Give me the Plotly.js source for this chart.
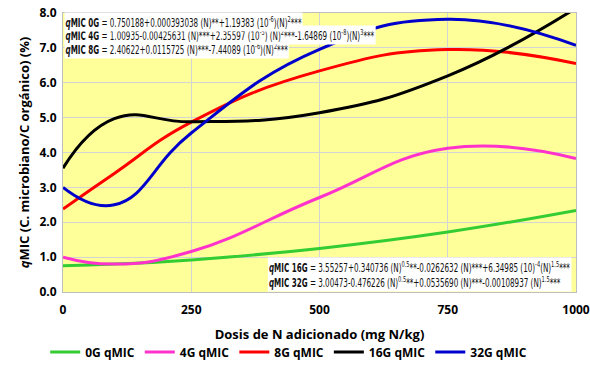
<!DOCTYPE html>
<html><head><meta charset="utf-8">
<script src="https://cdn.plot.ly/plotly-3.0.1.min.js"></script>
<style>html,body{margin:0;padding:0;background:#fff}#c{width:590px;height:380px}</style>
</head><body><div id="c"></div>
<script>
const dosis = [0, 100, 250, 500, 750, 1000];
const g0  = [0.75, 0.80, 0.92, 1.25, 1.72, 2.34];
const g4  = [1.00, 0.80, 1.16, 2.71, 4.12, 3.83];
const g8  = [2.38, 3.40, 4.87, 6.34, 6.95, 6.55];
const g16 = [3.55, 4.97, 4.88, 5.14, 6.20, 8.14];
const g32 = [3.00, 2.50, 4.56, 6.96, 7.82, 7.07];
const names = ['0G qMIC','4G qMIC','8G qMIC','16G qMIC','32G qMIC'];
const colors = ['#33cc33','#ff33cc','#ff0000','#000000','#0000cc'];
const series = [g0,g4,g8,g16,g32];
const xTicks = [0,250,500,750,1000];
const eqTop = [
 '<b><i>q</i>MIC 0G</b> = 0.750188+0.000393038 (N)**+1.19383 (10<sup>-6</sup>)(N)<sup>2</sup>***',
 '<b><i>q</i>MIC 4G</b> = 1.00935-0.00425631 (N)***+2.35597 (10<sup>-5</sup>) (N)<sup>2</sup>***-1.64869 (10<sup>-8</sup>)(N)<sup>3</sup>***',
 '<b><i>q</i>MIC 8G</b> = 2.40622+0.0115725 (N)***-7.44089 (10<sup>-6</sup>)(N)<sup>2</sup>***'
];
const eqBot = [
 '<b><i>q</i>MIC 16G</b> = 3.55257+0.340736 (N)<sup>0.5</sup>**-0.0262632 (N)***+6.34985 (10)<sup>-4</sup>(N)<sup>1.5</sup>***',
 '<b><i>q</i>MIC 32G</b> = 3.00473-0.476226 (N)<sup>0.5</sup>**+0.0535690 (N)***-0.00108937 (N)<sup>1.5</sup>***'
];
const traces = series.map((s,i)=>({
  x: dosis, y: s, name: names[i], type:'scatter', mode:'lines',
  line:{color:colors[i], width:3, shape:'spline', smoothing:1.3}
}));
// pixel -> paper helpers (plot area 63..576 x 13..292)
const px = v => (v-63)/513, py = v => (292-v)/279;
const eqFont = {family:'"DejaVu Sans Condensed"', size:11.6, color:'#111'};
const narrow = 0.69; // horizontal squeeze to mimic the condensed equation font
const ann = [];
const topC = [21.5, 35, 48.5];
for (let i = eqTop.length-1; i >= 0; i--) {
  ann.push({xref:'paper',yref:'paper',x:px(63.5),y:py(topC[i]),xanchor:'left',yanchor:'middle',
    text:eqTop[i],showarrow:false,font:eqFont,align:'left',bgcolor:'#ffffff',borderpad:1});
}
ann.push({xref:'paper',yref:'paper',x:px(572),y:py(291.5),xanchor:'right',yanchor:'bottom',
  text:eqBot.join('<br>'),showarrow:false,font:eqFont,align:'left',bgcolor:'#ffffff',borderpad:1});
const layout = {
  width:590, height:380,
  margin:{l:63, r:14, t:13, b:88},
  paper_bgcolor:'#ffffff', plot_bgcolor:'#ffff99',
  font:{family:'"Open Sans","Liberation Sans",sans-serif', color:'#000'},
  xaxis:{range:[0,1000], tickvals:xTicks, ticktext:xTicks.map(String), showgrid:true, gridcolor:'#d4d4d4', gridwidth:1,
    zeroline:false, showline:true, mirror:true, linecolor:'#bfbfbf', ticks:'outside', ticklen:7, tickcolor:'rgba(0,0,0,0)',
    tickfont:{size:12, weight:'bold'},
    title:{text:'Dosis de N adicionado (mg N/kg)', font:{size:13, weight:'bold'}, standoff:12}},
  yaxis:{range:[0,8], dtick:1, tickformat:'.1f', showgrid:true, gridcolor:'#d4d4d4', gridwidth:1,
    zeroline:false, showline:true, mirror:true, linecolor:'#bfbfbf', ticks:'outside', ticklen:3, tickcolor:'rgba(0,0,0,0)',
    tickfont:{size:12, weight:'bold'},
    title:{text:'<i>q</i>MIC (C. microbiano/C orgánico) (%)', font:{size:13, weight:'bold'}, standoff:6}},
  legend:{orientation:'h', x:0.44, xanchor:'center', y:-0.215, yanchor:'middle',
    font:{size:12, weight:'bold'}, itemwidth:30},
  annotations:ann
};
Plotly.newPlot('c', traces, layout, {displayModeBar:false, staticPlot:true}).then(gd=>{
  gd.querySelectorAll('g.annotation').forEach(g=>{
    const idx = +g.getAttribute('data-index');
    const a = layout.annotations[idx];
    const rect = g.querySelector('rect.bg');
    const txt = g.querySelector('text.annotation-text');
    if (!rect || !txt) return;
    const bx = parseFloat(rect.getAttribute('x')) || 0;
    const bw = parseFloat(rect.getAttribute('width')) || 0;
    const ax = a && a.xanchor === 'right' ? bx + bw : bx;
    const tr = 'translate(' + ax + ',0) scale(' + narrow + ',1) translate(' + (-ax) + ',0)';
    rect.setAttribute('transform', tr);
    txt.setAttribute('transform', tr);
  });
});
</script></body></html>
